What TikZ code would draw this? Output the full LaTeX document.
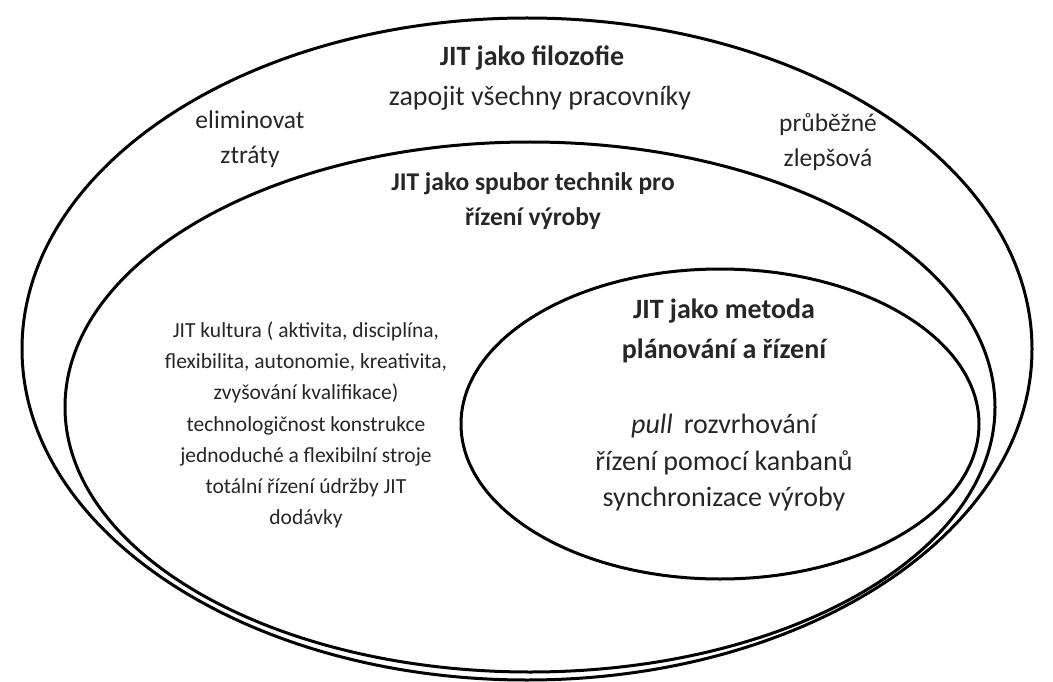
\documentclass[tikz,border=0pt]{standalone}
\usepackage{fontspec}
\setmainfont{Carlito}
\usetikzlibrary{shapes.geometric}
\begin{document}
\begin{tikzpicture}[x=1pt,y=-1pt,
  ring/.style={ellipse, draw=black, line width=3pt, inner sep=0pt},
  txt/.style={text=black!85, align=center, inner sep=0pt},
  bigtitle/.style={txt, font=\fontsize{28}{40}\selectfont\bfseries},
  midtitle/.style={txt, font=\fontsize{25.5}{35}\selectfont\bfseries},
  bigtext/.style={txt, font=\fontsize{28}{36.5}\selectfont},
  sidetext/.style={txt, font=\fontsize{25.5}{35}\selectfont},
  smalltext/.style={txt, font=\fontsize{21.5}{31.2}\selectfont}]
\useasboundingbox (0,0) rectangle (1053,682);

% three nested levels of JIT
\node[ring, minimum width=1010pt, minimum height=662pt] (outer) at (527,349) {};
\node[ring, minimum width=930pt, minimum height=530pt] (middle) at (530,407) {};
\node[ring, minimum width=518pt, minimum height=310pt] (inner) at (720,424) {};

% philosophy level
\node[bigtitle] (philo) at (532,58) {JIT jako filozofie};
\node[bigtext] (involve) at (540,98) {zapojit všechny pracovníky};
\node[sidetext] (waste) at (250,139) {eliminovat\\ztráty};
\node[sidetext] (improve) at (828,142) {průběžné\\zlepšová};

% techniques level
\node[midtitle] (tech) at (533,201) {JIT jako spubor technik pro\\řízení výroby};
\node[smalltext] (culture) at (306,425) {JIT kultura ( aktivita, disciplína,\\flexibilita, autonomie, kreativita,\\zvyšování kvalifikace)\\technologičnost konstrukce\\jednoduché a flexibilní stroje\\totální řízení údržby JIT\\dodávky};

% planning level
\node[bigtitle] (plan) at (724,331) {JIT jako metoda\\plánování a řízení};
\node[bigtext] (methods) at (724,463) {\textit{pull}\, rozvrhování\\řízení pomocí kanbanů\\synchronizace výroby};
\end{tikzpicture}
\end{document}
